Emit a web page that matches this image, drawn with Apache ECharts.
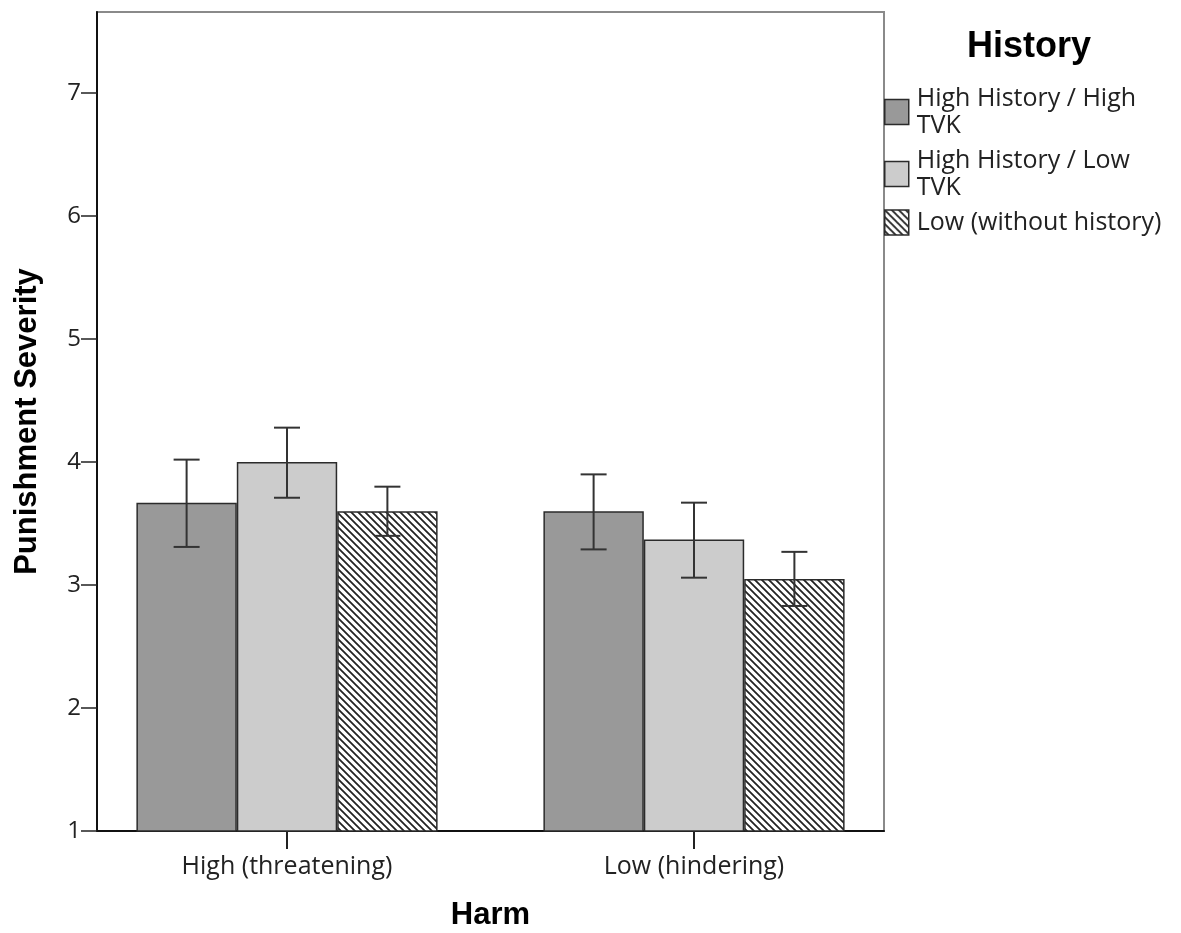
<!DOCTYPE html>
<html>
<head>
<meta charset="utf-8">
<script src="https://cdn.jsdelivr.net/npm/echarts@6/dist/echarts.min.js"></script>
<style>html,body{margin:0;padding:0;background:#fff;}#c{width:1181px;height:933px;}</style>
</head>
<body>
<div id="c"></div>
<script>
// ---- data ----
var categories = ['High (threatening)', 'Low (hindering)'];
var seriesNames = ['High History / High TVK', 'High History / Low TVK', 'Low (without history)'];
var legendLabels = ['High History / High\nTVK', 'High History / Low\nTVK', 'Low (without history)'];
var highHistHighTVK = [3.67, 3.60];
var highHistLowTVK = [4.00, 3.37];
var lowNoHistory = [3.60, 3.05];
var errLowHighTVK = [3.31, 3.29];
var errHighHighTVK = [4.02, 3.90];
var errLowLowTVK = [3.71, 3.06];
var errHighLowTVK = [4.28, 3.67];
var errLowNoHist = [3.40, 2.83];
var errHighNoHist = [3.80, 3.27];
var yTicks = [1, 2, 3, 4, 5, 6, 7];
var yMin = 1, yMax = 7.66;

// ---- hatch pattern ----
function makeHatch() {
  var s = 7;
  var cv = document.createElement('canvas');
  cv.width = s; cv.height = s;
  var ctx = cv.getContext('2d');
  ctx.fillStyle = '#ffffff';
  ctx.fillRect(0, 0, s, s);
  ctx.strokeStyle = '#222222';
  ctx.lineWidth = 1.8;
  ctx.beginPath();
  ctx.moveTo(-1, -1); ctx.lineTo(s + 1, s + 1);
  ctx.moveTo(s - 2, -2); ctx.lineTo(s + 2, 2);
  ctx.moveTo(-2, s - 2); ctx.lineTo(2, s + 2);
  ctx.stroke();
  return cv;
}
var hatch = { image: makeHatch(), repeat: 'repeat' };

var values = [highHistHighTVK, highHistLowTVK, lowNoHistory];
var errLows = [errLowHighTVK, errLowLowTVK, errLowNoHist];
var errHighs = [errHighHighTVK, errHighLowTVK, errHighNoHist];
var fills = ['#999999', '#cccccc', hatch];
var catGap = 0.26;

var errData = [];
for (var s = 0; s < 3; s++) {
  for (var c = 0; c < categories.length; c++) {
    errData.push([c, s, errLows[s][c], errHighs[s][c]]);
  }
}

var labelFont = 'Open Sans';
var titleFont = 'Liberation Sans';

var series = [];
for (var i = 0; i < 3; i++) {
  series.push({
    name: seriesNames[i],
    type: 'bar',
    xAxisIndex: 1, yAxisIndex: 1,
    data: values[i],
    barGap: '0%',
    barCategoryGap: (catGap * 100) + '%',
    itemStyle: { color: fills[i], borderColor: '#2b2b2b', borderWidth: 1.5 },
    emphasis: { disabled: true },
    z: 2
  });
}
series.push({
  type: 'custom',
  xAxisIndex: 1, yAxisIndex: 1,
  data: errData,
  encode: { x: 0, y: [2, 3] },
  z: 5,
  silent: true,
  renderItem: function (params, api) {
    var cat = api.value(0), si = api.value(1);
    var lo = api.coord([cat, api.value(2)]);
    var hi = api.coord([cat, api.value(3)]);
    var band = api.size([1, 0])[0];
    var bw = band * (1 - catGap) / 3;
    var x = lo[0] + (si - 1) * bw;
    var cap = 13;
    var st = { stroke: '#333333', lineWidth: 2 };
    return {
      type: 'group',
      children: [
        { type: 'line', shape: { x1: x, y1: lo[1], x2: x, y2: hi[1] }, style: st },
        { type: 'line', shape: { x1: x - cap, y1: hi[1], x2: x + cap, y2: hi[1] }, style: st },
        { type: 'line', shape: { x1: x - cap, y1: lo[1], x2: x + cap, y2: lo[1] }, style: st }
      ]
    };
  }
});

var chart = echarts.init(document.getElementById('c'), null, { renderer: 'canvas' });
chart.setOption({
  animation: false,
  backgroundColor: '#ffffff',
  grid: [
    { left: 97, right: 297, top: 12, bottom: 102, containLabel: false, outerBoundsMode: 'none', show: true, borderColor: '#8a8a8a', borderWidth: 2, backgroundColor: 'transparent' },
    { left: 83.5, width: 814, top: 12, bottom: 102, containLabel: false, outerBoundsMode: 'none' }
  ],
  xAxis: [
    {
      gridIndex: 0, type: 'category', data: categories,
      name: 'Harm', nameLocation: 'middle', nameGap: 69,
      nameTextStyle: { fontFamily: titleFont, fontWeight: 'bold', fontSize: 31, color: '#000' },
      axisLine: { show: true, lineStyle: { color: '#111', width: 2 } },
      axisTick: { show: false }, axisLabel: { show: false }, splitLine: { show: false }
    },
    {
      gridIndex: 1, type: 'category', data: categories,
      axisLine: { show: false },
      axisTick: { show: true, alignWithLabel: true, length: 18, lineStyle: { color: '#222', width: 2 } },
      axisLabel: { fontFamily: labelFont, fontSize: 25, color: '#222', margin: 23 },
      splitLine: { show: false }
    }
  ],
  yAxis: [
    {
      gridIndex: 0, type: 'value', min: yMin, max: yMax,
      name: 'Punishment Severity', nameLocation: 'middle', nameGap: 54, nameRotate: 90,
      nameTextStyle: { fontFamily: titleFont, fontWeight: 'bold', fontSize: 31, color: '#000' },
      axisLine: { show: true, lineStyle: { color: '#111', width: 2 } },
      axisTick: { show: true, length: 16, customValues: yTicks, lineStyle: { color: '#222', width: 1.5 } },
      axisLabel: { customValues: yTicks, fontFamily: labelFont, fontSize: 24, color: '#222', margin: 16 },
      splitLine: { show: false }
    },
    {
      gridIndex: 1, type: 'value', min: yMin, max: yMax, show: false, splitLine: { show: false }
    }
  ],
  legend: {
    orient: 'vertical', left: 884, top: 85, padding: 0, itemGap: 8,
    itemWidth: 24, itemHeight: 25, icon: 'rect',
    data: seriesNames,
    formatter: function (n) { return legendLabels[seriesNames.indexOf(n)]; },
    textStyle: { fontFamily: labelFont, fontSize: 25, color: '#222', lineHeight: 27, padding: [0, 0, 0, 3] },
    itemStyle: { borderColor: '#2b2b2b', borderWidth: 1.5 },
    selectedMode: false
  },
  graphic: [{
    type: 'text', x: 1029, y: 47,
    style: { text: 'History', fontFamily: titleFont, fontWeight: 'bold', fontSize: 36, fill: '#000', textAlign: 'center', textVerticalAlign: 'middle' }
  }],
  series: series
});
</script>
</body>
</html>
